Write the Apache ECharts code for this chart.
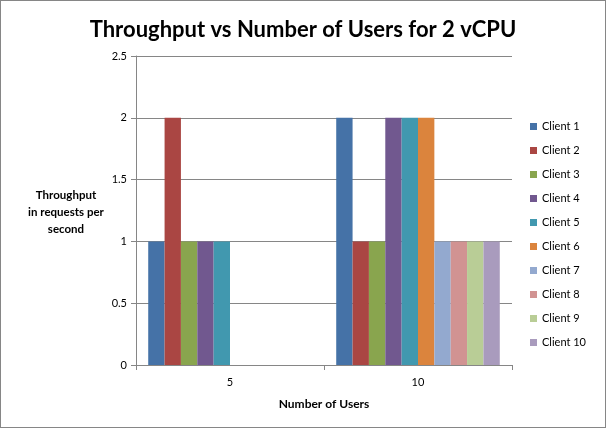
<!DOCTYPE html>
<html>
<head>
<meta charset="utf-8">
<script src="https://cdn.jsdelivr.net/npm/echarts@6/dist/echarts.min.js"></script>
<style>
html,body{margin:0;padding:0;background:#fff;}
#c{width:606px;height:428px;box-sizing:border-box;border:1px solid #868686;}
</style>
</head>
<body>
<div id="c"></div>
<script>
const categories = ['5', '10'];
const seriesNames = ['Client 1','Client 2','Client 3','Client 4','Client 5','Client 6','Client 7','Client 8','Client 9','Client 10'];
const client1 = [1, 2];
const client2 = [2, 1];
const client3 = [1, 1];
const client4 = [1, 2];
const client5 = [1, 2];
const client6 = ['-', 2];
const client7 = ['-', 1];
const client8 = ['-', 1];
const client9 = ['-', 1];
const client10 = ['-', 1];
const yTicks = [0, 0.5, 1, 1.5, 2, 2.5];
const colors = ['#4572A7','#AA4643','#89A54E','#71588F','#4198AF','#DB843D','#93A9CF','#D19392','#B9CD96','#A99BBD'];

const values = [client1, client2, client3, client4, client5, client6, client7, client8, client9, client10];
const FONT = 'Lato, "Open Sans", sans-serif';

const chart = echarts.init(document.getElementById('c'), null, {renderer: 'canvas'});
chart.setOption({
  animation: false,
  color: colors,
  title: {
    text: 'Throughput vs Number of Users for 2 vCPU',
    left: 'center',
    top: 13,
    textStyle: {fontFamily: FONT, fontSize: 22, fontWeight: 'bold', color: '#000'}
  },
  grid: {left: 135, right: 93, top: 55, bottom: 62, containLabel: false},
  legend: {
    orient: 'vertical',
    right: 14,
    top: 114,
    itemWidth: 7,
    itemHeight: 7,
    itemGap: 11,
    icon: 'rect',
    data: seriesNames,
    textStyle: {fontFamily: FONT, fontSize: 11, color: '#000', lineHeight: 13}
  },
  graphic: [{
    type: 'text',
    x: 65,
    y: 186,
    style: {
      text: 'Throughput\nin requests per\nsecond',
      fontFamily: FONT, fontSize: 11.5, fontWeight: 'bold', fill: '#000',
      align: 'center', verticalAlign: 'top', lineHeight: 17
    }
  }],
  xAxis: {
    type: 'category',
    data: categories,
    name: 'Number of Users',
    nameLocation: 'middle',
    nameGap: 33,
    nameTextStyle: {fontFamily: FONT, fontSize: 12, fontWeight: 'bold', color: '#000'},
    axisLine: {lineStyle: {color: '#868686', width: 1}},
    axisTick: {show: true, alignWithLabel: false, length: 5, lineStyle: {color: '#868686'}},
    axisLabel: {fontFamily: FONT, fontSize: 11, color: '#000', margin: 12}
  },
  yAxis: {
    type: 'value',
    min: yTicks[0],
    max: yTicks[yTicks.length - 1],
    interval: 0.5,
    axisLine: {show: true, lineStyle: {color: '#868686', width: 1}},
    axisTick: {show: true, length: 5, lineStyle: {color: '#868686'}},
    axisLabel: {fontFamily: FONT, fontSize: 11, color: '#000', margin: 9},
    splitLine: {lineStyle: {color: '#868686', width: 1}}
  },
  series: seriesNames.map((n, i) => ({
    name: n,
    type: 'bar',
    data: values[i],
    barGap: '0%',
    barCategoryGap: '13%',
    itemStyle: {color: colors[i]}
  }))
});
</script>
</body>
</html>
